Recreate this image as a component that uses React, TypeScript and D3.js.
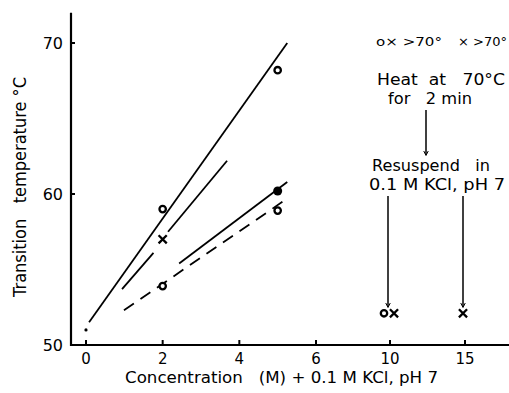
import * as React from 'react';
import * as d3 from 'd3';

// values: concentration (M) vs transition temperature (deg C)
const xTicks = [0, 2, 4, 6, 10, 15];
const yTicks = [50, 60, 70];
const openCircles = [
    {c: 2, t: 59.0},
    {c: 2, t: 53.9},
    {c: 5, t: 68.2},
    {c: 5, t: 58.9}
];
const filledCircles = [{c: 5, t: 60.2}];
const crosses = [{c: 2, t: 57.0}];
const controlDot = [{c: 0, t: 51.0}];
// after heating at 70 and resuspending
const heatedCircles = [{c: 10, t: 52.1}];
const heatedCrosses = [{c: 10, t: 52.1}, {c: 15, t: 52.1}];

const solidLines = [
    [{c: 0.08, t: 51.5}, {c: 5.25, t: 70.0}],
    [{c: 0.94, t: 53.7}, {c: 1.76, t: 56.1}],
    [{c: 2.14, t: 57.5}, {c: 3.68, t: 62.2}],
    [{c: 2.43, t: 55.4}, {c: 5.25, t: 60.8}]
];
const dashedLines = [
    [{c: 0.99, t: 52.3}, {c: 5.25, t: 59.7}]
];

const FONT = "'DejaVu Sans', sans-serif";

class App extends React.Component<any, any> {
    ref = React.createRef<SVGSVGElement>();

    componentDidMount() {
        this.createGraph();
    }

    createGraph() {
        let svg = d3.select(this.ref.current);
        svg.selectAll("*").remove();

        // 0-6 is linear, 10 and 15 are squeezed on the same spacing as the ticks
        let x = d3.scaleLinear().domain([0, 6, 10, 15]).range([86, 316, 390, 465]);
        let y = d3.scaleLinear().domain([50, 70]).range([345, 43]);

        // axes
        svg.append("line")
            .attr("x1", 71).attr("x2", 71)
            .attr("y1", y(72)).attr("y2", y(50) + 1)
            .attr("stroke", "#000").attr("stroke-width", 2.2);
        svg.append("line")
            .attr("x1", 70).attr("x2", 509)
            .attr("y1", y(50)).attr("y2", y(50))
            .attr("stroke", "#000").attr("stroke-width", 2.2);

        svg.selectAll(".xtick").data(xTicks).enter().append("line")
            .attr("class", "xtick")
            .attr("x1", d => x(d)).attr("x2", d => x(d))
            .attr("y1", y(50)).attr("y2", y(50) - 5)
            .attr("stroke", "#000").attr("stroke-width", 2);
        svg.selectAll(".xlab").data(xTicks).enter().append("text")
            .attr("class", "xlab")
            .attr("x", d => x(d)).attr("y", 364)
            .attr("text-anchor", "middle")
            .style("font-family", FONT).style("font-size", "15px")
            .text(d => d);

        svg.selectAll(".ytick").data(yTicks).enter().append("line")
            .attr("class", "ytick")
            .attr("x1", 71).attr("x2", 75)
            .attr("y1", d => y(d)).attr("y2", d => y(d))
            .attr("stroke", "#000").attr("stroke-width", 2);
        svg.selectAll(".ylab").data(yTicks).enter().append("text")
            .attr("class", "ylab")
            .attr("x", 63).attr("y", d => y(d) + 6)
            .attr("text-anchor", "end")
            .style("font-family", FONT).style("font-size", "16px")
            .text(d => d);

        // axis titles
        svg.append("text")
            .attr("transform", "translate(26,187) rotate(-90)")
            .attr("text-anchor", "middle")
            .attr("textLength", 220).attr("lengthAdjust", "spacingAndGlyphs")
            .style("font-family", FONT).style("font-size", "17px")
            .style("white-space", "pre")
            .text("Transition   temperature °C");
        svg.append("text")
            .attr("x", 125).attr("y", 383)
            .attr("textLength", 313).attr("lengthAdjust", "spacingAndGlyphs")
            .style("font-family", FONT).style("font-size", "16px")
            .style("white-space", "pre")
            .text("Concentration   (M) + 0.1 M KCl, pH 7");

        // fitted lines
        let line = d3.line<any>().x(d => x(d.c)).y(d => y(d.t));
        svg.selectAll(".solid").data(solidLines).enter().append("path")
            .attr("class", "solid")
            .attr("d", line)
            .attr("fill", "none").attr("stroke", "#000").attr("stroke-width", 1.8);
        svg.selectAll(".dashed").data(dashedLines).enter().append("path")
            .attr("class", "dashed")
            .attr("d", line)
            .attr("fill", "none").attr("stroke", "#000").attr("stroke-width", 1.8)
            .attr("stroke-dasharray", "12,8");

        // markers
        let allOpen = openCircles.map(d => ({...d, dx: 0})).concat(heatedCircles.map(d => ({...d, dx: -6})));
        svg.selectAll(".open").data(allOpen).enter().append("circle")
            .attr("class", "open")
            .attr("cx", d => x(d.c) + d.dx).attr("cy", d => y(d.t))
            .attr("r", 3.2)
            .attr("fill", "#fff").attr("stroke", "#000").attr("stroke-width", 2.3);
        svg.selectAll(".filled").data(filledCircles).enter().append("circle")
            .attr("class", "filled")
            .attr("cx", d => x(d.c)).attr("cy", d => y(d.t))
            .attr("r", 4.5).attr("fill", "#000");
        svg.selectAll(".dot").data(controlDot).enter().append("circle")
            .attr("class", "dot")
            .attr("cx", d => x(d.c)).attr("cy", d => y(d.t))
            .attr("r", 1.6).attr("fill", "#000");
        let allCross = crosses.map(d => ({...d, dx: 0}))
            .concat(heatedCrosses.map(d => ({...d, dx: d.c === 10 ? 4 : -2})));
        let cross = d3.symbol().type(d3.symbolX).size(45);
        svg.selectAll(".cross").data(allCross).enter().append("path")
            .attr("class", "cross")
            .attr("d", cross)
            .attr("transform", d => "translate(" + (x(d.c) + d.dx) + "," + y(d.t) + ")")
            .attr("fill", "none").attr("stroke", "#000").attr("stroke-width", 2.3);

        // annotations
        let note = (tx: number, ty: number, len: number, s: string) =>
            svg.append("text")
                .attr("x", tx).attr("y", ty)
                .attr("textLength", len).attr("lengthAdjust", "spacingAndGlyphs")
                .style("font-family", FONT).style("font-size", "15px")
                .style("white-space", "pre")
                .text(s);
        note(376, 46, 66, "o× >70°").style("font-size", "13px");
        note(458, 46, 49, "× >70°").style("font-size", "13px");
        note(377, 85, 128, "Heat  at   70°C");
        note(388, 104, 84, "for   2 min");
        note(372, 171, 118, "Resuspend   in");
        note(369, 190, 136, "0.1 M KCl, pH 7");

        svg.append("defs").append("marker")
            .attr("id", "arrow")
            .attr("viewBox", "0 0 10 10")
            .attr("refX", 9).attr("refY", 5)
            .attr("markerWidth", 5).attr("markerHeight", 6)
            .attr("markerUnits", "userSpaceOnUse")
            .attr("orient", "auto")
            .append("path")
            .attr("d", "M0,0 L10,5 L0,10")
            .attr("fill", "none").attr("stroke", "#000").attr("stroke-width", 2);
        let arrows = [
            {x1: 426, y1: 110, y2: 155},
            {x1: x(10) - 2, y1: 196, y2: 307},
            {x1: x(15) - 2, y1: 196, y2: 307}
        ];
        svg.selectAll(".arrow").data(arrows).enter().append("line")
            .attr("class", "arrow")
            .attr("x1", d => d.x1).attr("x2", d => d.x1)
            .attr("y1", d => d.y1).attr("y2", d => d.y2)
            .attr("stroke", "#000").attr("stroke-width", 1.5)
            .attr("marker-end", "url(#arrow)");
    }

    render() {
        return (
            <svg ref={this.ref} width={509} height={393}
                 style={{position: "absolute", left: 0, top: 0, background: "#fff"}}/>
        );
    }
}

export default App;
